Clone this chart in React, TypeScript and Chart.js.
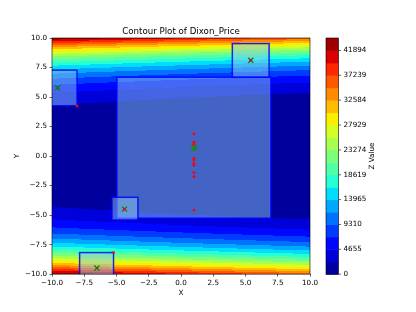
import { useEffect, useRef } from 'react';
import { Chart, registerables } from 'chart.js';

Chart.register(...registerables);

// ---- data ----
const xTicks = [-10, -7.5, -5, -2.5, 0, 2.5, 5, 7.5, 10];
const yTicks = [-10, -7.5, -5, -2.5, 0, 2.5, 5, 7.5, 10];
const zLevels = [0, 2327.4, 4654.8, 6982.3, 9309.7, 11637.1, 13964.5, 16291.9, 18619.4, 20946.8, 23274.2, 25601.6, 27929.1, 30256.5, 32583.9, 34911.3, 37238.7, 39566.2, 41893.6, 44221];
const cbTicks = [0, 4655, 9310, 13965, 18619, 23274, 27929, 32584, 37239, 41894];

// trust-region boxes (data units)
const boxXMin = [-4.97, 3.98, -11.06, -5.35, -7.86];
const boxXMax = [6.97, 6.83, -8.06, -3.34, -5.23];
const boxYMin = [-5.26, 6.69, 4.26, -5.41, -10.8];
const boxYMax = [6.68, 9.53, 7.28, -3.49, -8.17];

// sampled points
const redX = [1.0, 1.0, 1.0, 1.0, 1.0, 1.0, 1.0, 1.0, 1.0, 1.0, 5.41, -4.38, -8.06, -5.23];
const redY = [1.88, 1.17, 1.0, -0.17, -0.33, -0.63, -0.79, -1.4, -1.74, -4.57, 8.11, -4.49, 4.24, -8.17];

// box centres
const greenX = [5.41, -9.56, -4.38, -6.52];
const greenY = [8.11, 5.78, -4.49, -9.48];
const bestX = [1.02];
const bestY = [0.68];

// Dixon-Price surface (2-D) named in the chart title
function dixonPrice(x: number, y: number) {
  return (x - 1) * (x - 1) + (2 * y * y - x) * (2 * y * y - x);
}

// matplotlib "jet"
const jetR = [[0, 0], [0.35, 0], [0.66, 1], [0.89, 1], [1, 0.5]];
const jetG = [[0, 0], [0.125, 0], [0.375, 1], [0.64, 1], [0.91, 0], [1, 0]];
const jetB = [[0, 0.5], [0.11, 1], [0.34, 1], [0.65, 0], [1, 0]];
function seg(s: number[][], t: number) {
  for (let i = 1; i < s.length; i++) {
    if (t <= s[i][0]) {
      const f = (t - s[i - 1][0]) / (s[i][0] - s[i - 1][0]);
      return s[i - 1][1] + f * (s[i][1] - s[i - 1][1]);
    }
  }
  return s[s.length - 1][1];
}
function jet(t: number) {
  return [Math.round(seg(jetR, t) * 255), Math.round(seg(jetG, t) * 255), Math.round(seg(jetB, t) * 255)];
}

const FONT = '"DejaVu Sans", sans-serif';
const fmt = (v: number) => v.toFixed(1).replace('-', '\u2212');

const contourPlugin = {
  id: 'contourPlot',
  beforeDatasetsDraw(chart: any) {
    const { ctx, chartArea: a, scales } = chart;
    const xs = scales.x, ys = scales.y, cb = scales.cb;
    const L = Math.round(a.left), T = Math.round(a.top);
    const W = Math.round(a.right) - L, H = Math.round(a.bottom) - T;
    const nb = zLevels.length - 1;
    const lut: number[][] = [];
    for (let i = 0; i < nb; i++) lut.push(jet((i + 0.5) / nb));
    const img = ctx.createImageData(W, H);
    for (let j = 0; j < H; j++) {
      const Y = ys.getValueForPixel(T + j + 0.5);
      for (let i = 0; i < W; i++) {
        const X = xs.getValueForPixel(L + i + 0.5);
        const z = dixonPrice(X, Y);
        let b = 0;
        while (b < nb - 1 && z >= zLevels[b + 1]) b++;
        const c = lut[b];
        const k = (j * W + i) * 4;
        img.data[k] = c[0];
        img.data[k + 1] = c[1];
        img.data[k + 2] = c[2];
        img.data[k + 3] = 255;
      }
    }
    ctx.putImageData(img, L, T);

    // boxes
    ctx.save();
    ctx.beginPath();
    ctx.rect(a.left, a.top, a.right - a.left, a.bottom - a.top);
    ctx.clip();
    for (let k = 0; k < boxXMin.length; k++) {
      const x0 = xs.getPixelForValue(boxXMin[k]);
      const x1 = xs.getPixelForValue(boxXMax[k]);
      const y0 = ys.getPixelForValue(boxYMax[k]);
      const y1 = ys.getPixelForValue(boxYMin[k]);
      ctx.fillStyle = 'rgba(135,200,235,0.5)';
      ctx.fillRect(x0, y0, x1 - x0, y1 - y0);
      ctx.strokeStyle = 'rgba(0,0,255,0.85)';
      ctx.lineWidth = 1.5;
      ctx.strokeRect(x0, y0, x1 - x0, y1 - y0);
    }
    ctx.restore();

    // colorbar
    const cx0 = 326, cx1 = 338.5;
    for (let i = 0; i < nb; i++) {
      const yA = cb.getPixelForValue(zLevels[i]);
      const yB = cb.getPixelForValue(zLevels[i + 1]);
      const c = lut[i];
      ctx.fillStyle = `rgb(${c[0]},${c[1]},${c[2]})`;
      ctx.fillRect(cx0, yB, cx1 - cx0, yA - yB + 0.5);
    }
    ctx.save();
    ctx.strokeStyle = '#000';
    ctx.lineWidth = 0.6;
    ctx.strokeRect(cx0, cb.getPixelForValue(zLevels[nb]), cx1 - cx0, cb.getPixelForValue(zLevels[0]) - cb.getPixelForValue(zLevels[nb]));
    ctx.beginPath();
    for (const v of cbTicks) {
      const y = cb.getPixelForValue(v);
      ctx.moveTo(cx1, y);
      ctx.lineTo(cx1 + 2.5, y);
    }
    ctx.stroke();
    ctx.restore();
  },
  afterDatasetsDraw(chart: any) {
    const { ctx, chartArea: a } = chart;
    ctx.save();
    ctx.strokeStyle = '#000';
    ctx.lineWidth = 0.6;
    ctx.strokeRect(a.left, a.top, a.right - a.left, a.bottom - a.top);
    ctx.fillStyle = '#000';
    ctx.font = `8.67px ${FONT}`;
    ctx.textAlign = 'center';
    ctx.textBaseline = 'alphabetic';
    ctx.fillText('Contour Plot of Dixon_Price', (a.left + a.right) / 2, a.top - 4.5);
    ctx.translate(372.5, (a.top + a.bottom) / 2);
    ctx.rotate(-Math.PI / 2);
    ctx.font = `7.2px ${FONT}`;
    ctx.textBaseline = 'middle';
    ctx.fillText('Z Value', 0, 0);
    ctx.restore();
  },
};

export default function App() {
  const ref = useRef<HTMLCanvasElement | null>(null);
  useEffect(() => {
    if (!ref.current) return;
    const tickFont = { family: FONT, size: 7.2 };
    const chart = new Chart(ref.current, {
      type: 'scatter',
      data: {
        datasets: [
          {
            label: 'samples',
            data: redX.map((x, i) => ({ x, y: redY[i] })),
            backgroundColor: '#ff0000',
            borderWidth: 0,
            pointRadius: 1.4,
            yAxisID: 'y',
          },
          {
            label: 'centres',
            data: greenX.map((x, i) => ({ x, y: greenY[i] })),
            pointStyle: 'crossRot',
            borderColor: '#008000',
            borderWidth: 1.2,
            pointRadius: 3.6,
            yAxisID: 'y',
          },
          {
            label: 'best',
            data: bestX.map((x, i) => ({ x, y: bestY[i] })),
            pointStyle: 'star',
            borderColor: '#1a8a1a',
            borderWidth: 1.2,
            pointRadius: 3.6,
            yAxisID: 'y',
          },
        ],
      },
      options: {
        responsive: false,
        animation: false,
        events: [],
        layout: { padding: { top: 38, left: 0, right: 0, bottom: 0 } },
        plugins: { legend: { display: false }, tooltip: { enabled: false }, title: { display: false } },
        scales: {
          x: {
            type: 'linear',
            position: 'bottom',
            min: -10,
            max: 10,
            afterBuildTicks: (s: any) => { s.ticks = xTicks.map((v) => ({ value: v })); },
            afterFit: (s: any) => { s.height = 35; },
            ticks: { font: tickFont, color: '#000', padding: 2.5, maxRotation: 0, autoSkip: false, callback: (v: any) => fmt(Number(v)) },
            grid: { display: true, drawOnChartArea: false, drawTicks: true, tickLength: 2.5, color: '#000', lineWidth: 0.6 },
            border: { display: false },
            title: { display: true, text: 'X', font: { family: FONT, size: 7.2 }, color: '#000', padding: { top: 0, bottom: 11.5 } },
          },
          y: {
            type: 'linear',
            position: 'left',
            min: -10,
            max: 10,
            afterBuildTicks: (s: any) => { s.ticks = yTicks.map((v) => ({ value: v })); },
            afterFit: (s: any) => { s.width = 52; },
            ticks: { font: tickFont, color: '#000', padding: 2.5, autoSkip: false, callback: (v: any) => fmt(Number(v)) },
            grid: { display: true, drawOnChartArea: false, drawTicks: true, tickLength: 2.5, color: '#000', lineWidth: 0.6 },
            border: { display: false },
            title: { display: true, text: 'Y', font: { family: FONT, size: 7.2 }, color: '#000', padding: { top: 12.5, bottom: 0 } },
          },
          cb: {
            type: 'linear',
            position: 'right',
            min: zLevels[0],
            max: zLevels[zLevels.length - 1],
            afterBuildTicks: (s: any) => { s.ticks = cbTicks.map((v) => ({ value: v })); },
            afterFit: (s: any) => { s.width = 106; },
            ticks: { font: tickFont, color: '#000', padding: 33.5, autoSkip: false, callback: (v: any) => String(v) },
            grid: { display: false, drawTicks: false, tickLength: 0 },
            border: { display: false },
          },
        },
      },
      plugins: [contourPlugin],
    } as any);
    return () => chart.destroy();
  }, []);
  return (
    <div style={{ position: 'fixed', left: 0, top: 0, width: 416, height: 312, background: '#fff' }}>
      <canvas ref={ref} width={416} height={312} style={{ width: 416, height: 312, display: 'block' }} />
    </div>
  );
}
